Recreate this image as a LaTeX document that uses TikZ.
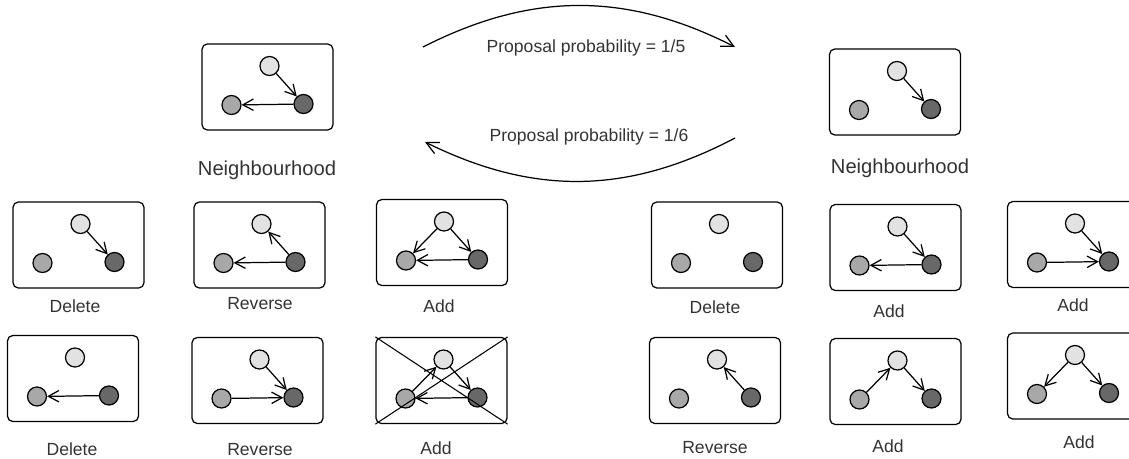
\documentclass[tikz,border=0pt]{standalone}
\usepackage{fontspec}
\setmainfont{Liberation Sans}
\usetikzlibrary{arrows.meta, calc}
\definecolor{dagpale}{HTML}{E2E2E2}
\definecolor{dagmid}{HTML}{A8A8A8}
\definecolor{dagdark}{HTML}{686868}
\definecolor{dagtext}{HTML}{333333}
\tikzset{
  frame/.style={draw, rounded corners=3pt, line width=0.7pt,
    minimum width=2.62cm, minimum height=1.72cm},
  vert/.style={circle, draw, line width=0.7pt, minimum size=0.38cm, inner sep=0pt},
  vpale/.style={vert, fill=dagpale},
  vmid/.style={vert, fill=dagmid},
  vdark/.style={vert, fill=dagdark},
  edge/.style={line width=0.7pt, -{Straight Barb[length=6pt, width=6.5pt]}},
  flow/.style={line width=0.7pt, -{Straight Barb[length=7pt, width=7pt]}},
  lbl/.style={font=\fontsize{10}{12}\selectfont, text=dagtext},
  head/.style={font=\fontsize{11.5}{14}\selectfont, text=dagtext}
}
% one framed three-vertex graph: name, x, y
\newcommand{\dagbox}[3]{%
  \node[frame] (#1) at (#2,#3) {};
  \node[vpale] (#1t) at ([shift={(2,-21)}]#1.center) {};
  \node[vmid] (#1l) at ([shift={(-36,18)}]#1.center) {};
  \node[vdark] (#1r) at ([shift={(36,17)}]#1.center) {};
}
\begin{document}
\begin{tikzpicture}[x=0.02cm, y=-0.02cm]
  \useasboundingbox (0,0) rectangle (1129,458);
  \clip (0,0) rectangle (1129,458);

  % current graph and proposed graph
  \dagbox{m1}{267.5}{87}
  \draw[edge] (m1t) -- (m1r);
  \draw[edge] (m1r) -- (m1l);
  \dagbox{m2}{895}{92}
  \draw[edge] (m2t) -- (m2r);

  \coordinate (up1) at (423,47);
  \coordinate (up2) at (735,47);
  \coordinate (dn1) at (735,138);
  \coordinate (dn2) at (425,142);
  \draw[flow] (up1) to[bend left=27] (up2);
  \draw[flow] (dn1) to[bend left=27] (dn2);
  \node[lbl] (pfwd) at (586,48) {Proposal probability = 1/5};
  \node[lbl] (pbwd) at (589,137) {Proposal probability = 1/6};

  \node[head] (nbl) at (267,170) {Neighbourhood};
  \node[head] (nbr) at (900,168) {Neighbourhood};

  % neighbourhood of the current graph
  \dagbox{b1}{78.5}{245}
  \draw[edge] (b1t) -- (b1r);
  \node[lbl] (b1x) at (75,306) {Delete};
  \dagbox{b2}{259.5}{245}
  \draw[edge] (b2r) -- (b2t);
  \draw[edge] (b2r) -- (b2l);
  \node[lbl] (b2x) at (260,304) {Reverse};
  \dagbox{b3}{442}{242.5}
  \draw[edge] (b3t) -- (b3r);
  \draw[edge] (b3r) -- (b3l);
  \draw[edge] (b3t) -- (b3l);
  \node[lbl] (b3x) at (439,306) {Add};
  \dagbox{b4}{73}{378.5}
  \draw[edge] (b4r) -- (b4l);
  \node[lbl] (b4x) at (72,449) {Delete};
  \dagbox{b5}{257.5}{380.5}
  \draw[edge] (b5t) -- (b5r);
  \draw[edge] (b5l) -- (b5r);
  \node[lbl] (b5x) at (260,450) {Reverse};
  \dagbox{b6}{441.5}{380.5}
  \draw[edge] (b6l) -- (b6t);
  \draw[edge] (b6t) -- (b6r);
  \draw[edge] (b6r) -- (b6l);
  \draw[line width=0.6pt] (b6.north west) -- (b6.south east)
    (b6.south west) -- (b6.north east);
  \node[lbl] (b6x) at (436,448) {Add};

  % neighbourhood of the proposed graph
  \dagbox{b7}{717}{245}
  \node[lbl] (b7x) at (715,307) {Delete};
  \dagbox{b8}{895.5}{247.5}
  \draw[edge] (b8t) -- (b8r);
  \draw[edge] (b8r) -- (b8l);
  \node[lbl] (b8x) at (889,311) {Add};
  \dagbox{b9}{1073}{244.5}
  \draw[edge] (b9t) -- (b9r);
  \draw[edge] (b9l) -- (b9r);
  \node[lbl] (b9x) at (1073,305) {Add};
  \dagbox{b10}{715}{380.5}
  \draw[edge] (b10r) -- (b10t);
  \node[lbl] (b10x) at (715,448) {Reverse};
  \dagbox{b11}{895.5}{381.5}
  \draw[edge] (b11l) -- (b11t);
  \draw[edge] (b11t) -- (b11r);
  \node[lbl] (b11x) at (888,446) {Add};
  \dagbox{b12}{1073}{376}
  \draw[edge] (b12t) -- (b12l);
  \draw[edge] (b12t) -- (b12r);
  \node[lbl] (b12x) at (1079,442) {Add};
\end{tikzpicture}
\end{document}
